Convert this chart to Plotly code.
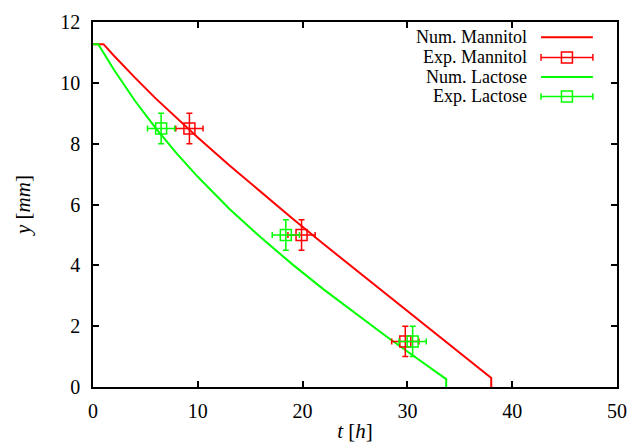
import plotly.graph_objects as go

# Numerical drying-front position, Mannitol
t_num_mannitol = [0.0, 1.0, 2.0, 3.0, 4.0, 6.0, 8.0, 10.0, 13.0, 16.0, 19.0, 22.0,
                  25.0, 28.0, 31.0, 34.0, 36.0, 38.0, 38.0]
y_num_mannitol = [11.27, 11.27, 10.89, 10.52, 10.17, 9.48, 8.83, 8.20, 7.29, 6.41,
                  5.55, 4.70, 3.87, 3.04, 2.21, 1.39, 0.84, 0.30, 0.0]

# Numerical drying-front position, Lactose
t_num_lactose = [0.0, 0.5, 2.0, 4.0, 6.0, 8.0, 10.0, 13.0, 16.0, 19.0, 22.0,
                 25.0, 28.0, 31.0, 33.7, 33.7]
y_num_lactose = [11.27, 11.27, 10.43, 9.41, 8.50, 7.67, 6.91, 5.86, 4.92, 4.04,
                 3.21, 2.42, 1.66, 0.92, 0.26, 0.0]

# Experimental points with uncertainties
t_exp_mannitol = [9.2, 19.9, 29.8]
y_exp_mannitol = [8.5, 5.0, 1.5]
t_exp_lactose = [6.5, 18.4, 30.5]
y_exp_lactose = [8.5, 5.0, 1.5]
t_err = [1.3, 1.3, 1.3]
y_err = [0.5, 0.5, 0.5]

legend_labels = ["Num. Mannitol", "Exp. Mannitol", "Num. Lactose", "Exp. Lactose"]

RED = "#ff0000"
GREEN = "#00ff00"
FONT = "Liberation Serif"

fig = go.Figure()

fig.add_trace(go.Scatter(x=t_num_mannitol, y=y_num_mannitol, mode="lines",
                         line=dict(color=RED, width=2), name=legend_labels[0]))
fig.add_trace(go.Scatter(x=t_num_lactose, y=y_num_lactose, mode="lines",
                         line=dict(color=GREEN, width=2), name=legend_labels[2]))


def exp_trace(t, y, color, name):
    return go.Scatter(
        x=t, y=y, mode="markers", name=name,
        marker=dict(symbol="square-open", size=11, color=color,
                    line=dict(color=color, width=1.5)),
        error_x=dict(type="data", array=t_err, color=color, thickness=1.5, width=3),
        error_y=dict(type="data", array=y_err, color=color, thickness=1.5, width=3),
    )


fig.add_trace(exp_trace(t_exp_mannitol, y_exp_mannitol, RED, legend_labels[1]))
fig.add_trace(exp_trace(t_exp_lactose, y_exp_lactose, GREEN, legend_labels[3]))

# Key in the upper-right corner: labels right-aligned, samples to their right
row_y = [0.958, 0.903, 0.849, 0.796]
row_col = [RED, RED, GREEN, GREEN]
row_err = [False, True, False, True]
x0, x1, xm, x_text = 0.855, 0.954, 0.9045, 0.830
shapes = []
annotations = []
for lab, yy, col, err in zip(legend_labels, row_y, row_col, row_err):
    annotations.append(dict(text=lab, x=x_text, y=yy, xref="x domain", yref="y domain",
                            xanchor="right", yanchor="middle", showarrow=False,
                            borderpad=0,
                            font=dict(family=FONT, size=18, color="black")))
    shapes.append(dict(type="line", xref="x domain", yref="y domain",
                       x0=x0, x1=x1, y0=yy, y1=yy,
                       line=dict(color=col, width=2 if not err else 1.5)))
    if err:
        for xc in (x0, x1):
            shapes.append(dict(type="line", xref="x domain", yref="y domain",
                               x0=xc, x1=xc, y0=yy - 0.009, y1=yy + 0.009,
                               line=dict(color=col, width=1.5)))
        shapes.append(dict(type="rect", xref="x domain", yref="y domain",
                           x0=xm - 0.0105, x1=xm + 0.0105,
                           y0=yy - 0.015, y1=yy + 0.015,
                           line=dict(color=col, width=1.5)))

axis_common = dict(showline=True, linecolor="black", linewidth=1.5, mirror="ticks",
                   ticks="inside", ticklen=6, tickwidth=1.5, tickcolor="black",
                   showgrid=False, zeroline=False, automargin=False,
                   tickfont=dict(family=FONT, size=20, color="black"))

fig.update_layout(
    width=631, height=445,
    margin=dict(l=93, r=14, t=22, b=58),
    paper_bgcolor="white", plot_bgcolor="white",
    showlegend=False,
    shapes=shapes, annotations=annotations,
    xaxis=dict(range=[0, 50], dtick=10, tick0=0, ticklabelstandoff=5,
               title=dict(text="<i>t</i> [<i>h</i>]", standoff=3,
                          font=dict(family=FONT, size=21, color="black")),
               **axis_common),
    yaxis=dict(range=[0, 12], dtick=2, tick0=0, ticklabelstandoff=7,
               title=dict(text="<i>y</i> [<i>mm</i>]", standoff=24,
                          font=dict(family=FONT, size=21, color="black")),
               **axis_common),
)

fig.write_html("out.html")
